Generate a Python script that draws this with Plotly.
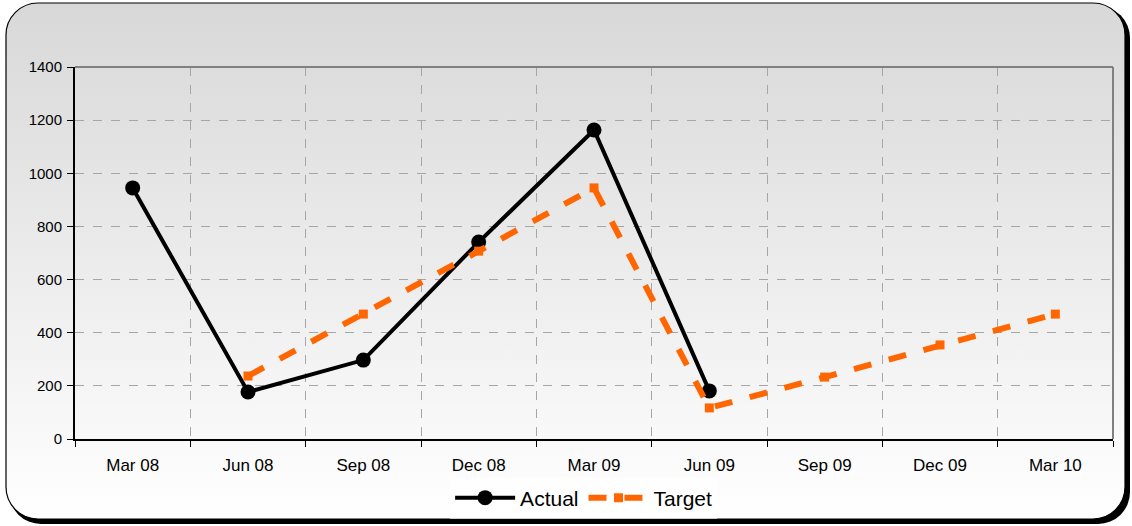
import base64
import plotly.graph_objects as go

categories = ["Mar 08", "Jun 08", "Sep 08", "Dec 08", "Mar 09", "Jun 09", "Sep 09", "Dec 09", "Mar 10"]
actual = [945, 177, 297, 741, 1163, 181, None, None, None]
target = [None, 237, 470, 707, 945, 117, 233, 354, 470]
y_ticks = [0, 200, 400, 600, 800, 1000, 1200, 1400]

W, H = 1132, 526
L, R, T, B = 75, 19, 67, 87
pw, ph = W - L - R, H - T - B

svg = f'''<svg xmlns="http://www.w3.org/2000/svg" width="{W}" height="{H}" viewBox="0 0 {W} {H}">
<defs><linearGradient id="g" x1="0" y1="0" x2="0" y2="1">
<stop offset="0" stop-color="#d8d8d8"/><stop offset="1" stop-color="#ffffff"/></linearGradient></defs>
<rect x="9" y="6" width="1121" height="518" rx="32" ry="32" fill="#000"/>
<rect x="6" y="3" width="1119" height="516" rx="32" ry="32" fill="url(#g)" stroke="#000" stroke-width="1.2"/>
</svg>'''
uri = "data:image/svg+xml;base64," + base64.b64encode(svg.encode()).decode()

fig = go.Figure()
fig.add_trace(go.Scatter(
    x=categories, y=actual, name="Actual", mode="lines+markers",
    line=dict(color="#000000", width=4),
    marker=dict(symbol="circle", size=15, color="#000000"),
))
fig.add_trace(go.Scatter(
    x=categories, y=target, name="Target", mode="lines+markers",
    line=dict(color="#FF6600", width=6, dash="dash"),
    marker=dict(symbol="square", size=9, color="#FF6600"),
))

fig.update_layout(
    width=W, height=H,
    margin=dict(l=L, r=R, t=T, b=B, autoexpand=False),
    paper_bgcolor="rgba(0,0,0,0)",
    plot_bgcolor="rgba(0,0,0,0)",
    font=dict(family="Liberation Sans, Arial, sans-serif", color="#000", size=15),
    showlegend=True,
    legend=dict(orientation="h", x=0.49, xanchor="center", y=(439 - 498) / ph, yanchor="middle",
                font=dict(size=21), bgcolor="rgba(255,255,255,0.6)", itemwidth=60, tracegroupgap=0),
    images=[dict(source=uri, xref="paper", yref="paper",
                 x=-L / pw, y=1 + T / ph, sizex=W / pw, sizey=H / ph,
                 xanchor="left", yanchor="top", sizing="stretch", layer="below")],
    shapes=[
        dict(type="line", xref="paper", yref="paper", x0=0, x1=1, y0=1, y1=1,
             line=dict(color="#808080", width=2)),
        dict(type="line", xref="paper", yref="paper", x0=1, x1=1, y0=0, y1=1,
             line=dict(color="#808080", width=2)),
    ],
)
fig.update_xaxes(
    type="category", categoryorder="array", categoryarray=categories,
    range=[-0.5, len(categories) - 0.5], automargin=False,
    tickson="boundaries", ticks="outside", ticklen=6, tickcolor="#000", tickwidth=1,
    showgrid=True, gridcolor="#a6a6a6", griddash="dash", gridwidth=1,
    showline=True, linecolor="#000", linewidth=2,
    ticklabelstandoff=10, tickfont=dict(size=17), zeroline=False,
)
fig.update_yaxes(
    range=[0, 1400], tickvals=y_ticks, ticks="outside", ticklen=6, tickcolor="#000",
    showgrid=True, gridcolor="#a6a6a6", griddash="dash", gridwidth=1,
    showline=True, linecolor="#000", linewidth=2, zeroline=False, automargin=False,
    tickfont=dict(size=15), ticklabelstandoff=2,
)
fig.write_html("out.html", post_script="document.body.style.margin='0';",
               config={"displayModeBar": False})
